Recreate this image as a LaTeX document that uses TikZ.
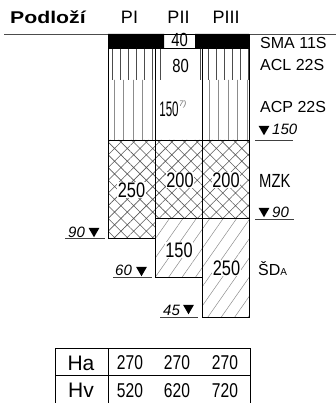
\documentclass[tikz,border=0pt]{standalone}
\usepackage{fontspec}
\setmainfont{Liberation Sans}
\newfontfamily\numfont[FakeStretch=0.78]{Liberation Sans}
\newfontfamily\thinfont[FakeStretch=0.55]{Liberation Sans}
\newfontfamily\headfont[FakeStretch=1.25]{Liberation Sans}
\usetikzlibrary{patterns.meta,shapes.geometric}

\tikzset{
  colline/.style = { draw = black, line width = .8pt },
  acl/.style = { pattern = {Lines[angle = 90, distance = 8pt, line width = 1pt]}, pattern color = black!70 },
  acp/.style = { pattern = {Lines[angle = 90, distance = 9.5pt, line width = .8pt]}, pattern color = black!45 },
  mzk/.style = { pattern = {Hatch[angle = 45, distance = 9pt, line width = .6pt]}, pattern color = black!65 },
  sda/.style = { pattern = {Lines[angle = 55, distance = 11pt, line width = .5pt]}, pattern color = black!45 },
  num/.style = { inner sep = .5pt, anchor = base, fill = white, font = \numfont\fontsize{21}{21}\selectfont },
  layername/.style = { inner sep = 0, anchor = base west, font = \fontsize{16}{16}\selectfont },
  levtext/.style = { inner sep = 0, anchor = base west, font = \itshape\fontsize{15}{15}\selectfont },
  tri/.style = { regular polygon, regular polygon sides = 3, shape border rotate = 180,
                 fill, inner sep = 0, minimum size = 12.5pt },
  levline/.style = { draw = black!75, line width = .9pt }
}

\begin{document}
\begin{tikzpicture}[x = 1pt, y = -1pt]
  \useasboundingbox (0,0) rectangle (336,403);

  % header
  \node [inner sep = 0, anchor = base west, font = \headfont\bfseries\fontsize{17}{17}\selectfont]
    (podlozi) at (10,24) {Podloží};
  \foreach \x/\p in {129.5/PI, 178.5/PII, 226/PIII}
    \node [inner sep = 0, anchor = base, font = \fontsize{18}{18}\selectfont] (\p) at (\x,24) {\p};
  \coordinate (hl) at (4,34.5);
  \coordinate (hr) at (336,34.5);
  \draw [black!70, line width = .9pt] (hl) -- (hr);

  % layers
  \fill (108,34) rectangle (164,48) (195,34) rectangle (249,48);
  \path [acl] (108,48) rectangle (164,80) (196,48) rectangle (249,80);
  \path [acp] (108,80) rectangle (155,140) (202,80) rectangle (249,140);
  \path [mzk] (108,140) rectangle (155,238) (155,140) rectangle (249,218);
  \path [sda] (155,218) rectangle (202,277) (202,218) rectangle (249,317);
  \draw [colline] (108,34) rectangle (155,238) (155,34) rectangle (202,277) (202,34) rectangle (249,317)
    (108,48) -- (249,48) (108,140) -- (249,140) (155,218) -- (249,218);

  % thicknesses
  \node [num, fill = none, font = \numfont\fontsize{19}{19}\selectfont] (n40) at (179.5,47) {40};
  \node [num, fill = none, font = \numfont\fontsize{19}{19}\selectfont] (n80) at (180.5,73) {80};
  \node [num, font = \thinfont\fontsize{21}{21}\selectfont] (n150a) at (169,117) {150};
  \node [inner sep = 0, anchor = base west, text = black!60, font = \itshape\fontsize{8}{8}\selectfont]
    (note) at (179,107) {7)};
  \node [num] (n250a) at (131.5,197) {250};
  \node [num] (n200a) at (180,187) {200};
  \node [num] (n200b) at (226,187) {200};
  \node [num] (n150b) at (179,257) {150};
  \node [num] (n250b) at (226.5,275) {250};

  % layer names
  \node [layername] (sma) at (260,49) {SMA 11S};
  \node [layername] (acl) at (260,71) {ACL 22S};
  \node [layername] (acp) at (260,113) {ACP 22S};
  \node [layername, font = \numfont\fontsize{19}{19}\selectfont] (mzk) at (259,187) {MZK};
  \node [layername] (sd) at (258,275) {ŠD{\fontsize{10}{10}\selectfont A}};

  % levels
  \foreach \lev/\tx/\ty/\nx/\ny/\xa/\xb/\ly [count = \i] in
    {150/264/129/272/135/255/293/140, 90/264/211/272/217/255/294/219,
     90/94/231/68/237/65/105/238, 60/141.5/270/115/275/113/152/277,
     45/188.5/308/163/315/160/198/317}
  {
    \node [tri] (tri\i) at (\tx,\ty) {};
    \node [levtext] (lev\i) at (\nx,\ny) {\lev};
    \coordinate (la\i) at (\xa,\ly);
    \coordinate (lb\i) at (\xb,\ly);
    \draw [levline] (la\i) -- (lb\i);
  }

  % table
  \draw [colline] (55,348) rectangle (250,406) (55,375) -- (250,375) (108,348) -- (108,406);
  \node [inner sep = 0, anchor = base, font = \fontsize{21}{21}\selectfont] (ha) at (81,370) {Ha};
  \node [inner sep = 0, anchor = base, font = \fontsize{21}{21}\selectfont] (hv) at (81,397) {Hv};
  \foreach \x/\a/\v [count = \i] in {130/270/520, 177/270/620, 225/270/720}
  {
    \node [num, fill = none, font = \numfont\fontsize{20}{20}\selectfont] (ha\i) at (\x,369) {\a};
    \node [num, fill = none, font = \numfont\fontsize{20}{20}\selectfont] (hv\i) at (\x,397) {\v};
  }
\end{tikzpicture}
\end{document}
